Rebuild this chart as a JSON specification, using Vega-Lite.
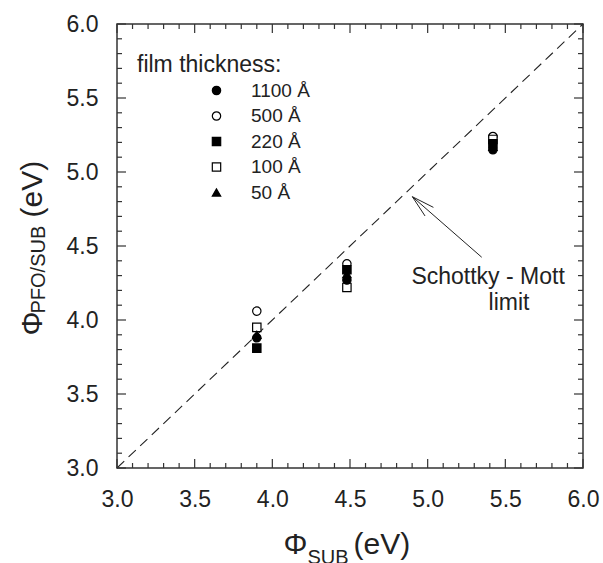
{
  "$schema": "https://vega.github.io/schema/vega-lite/v6.json",
  "width": 466,
  "height": 444,
  "autosize": {"type": "none"},
  "padding": {"left": 117, "top": 24, "right": 20, "bottom": 95},
  "background": "white",
  "config": {
    "font": "Liberation Sans",
    "view": {"stroke": "#333", "strokeWidth": 1.5},
    "axis": {
      "grid": false,
      "domain": false,
      "ticks": false,
      "labelFont": "Liberation Sans",
      "titleFont": "Liberation Sans",
      "labelColor": "#222",
      "titleColor": "#222",
      "titleFontWeight": "normal",
      "labelFlush": false,
      "labelOverlap": false
    }
  },
  "datasets": {
    "diag": [
      {"sub": 3.0, "film": 3.0},
      {"sub": 6.0, "film": 6.0}
    ],
    "films": [
      {"sub": 3.90, "film": 4.06, "thickness": "500 Å"},
      {"sub": 3.90, "film": 3.95, "thickness": "100 Å"},
      {"sub": 3.90, "film": 3.81, "thickness": "220 Å"},
      {"sub": 3.90, "film": 3.88, "thickness": "1100 Å"},
      {"sub": 3.90, "film": 3.90, "thickness": "\u00a050 Å"},
      {"sub": 4.48, "film": 4.38, "thickness": "500 Å"},
      {"sub": 4.48, "film": 4.22, "thickness": "100 Å"},
      {"sub": 4.48, "film": 4.34, "thickness": "220 Å"},
      {"sub": 4.48, "film": 4.27, "thickness": "1100 Å"},
      {"sub": 4.48, "film": 4.31, "thickness": "\u00a050 Å"},
      {"sub": 5.42, "film": 5.24, "thickness": "500 Å"},
      {"sub": 5.42, "film": 5.22, "thickness": "100 Å"},
      {"sub": 5.42, "film": 5.19, "thickness": "220 Å"},
      {"sub": 5.42, "film": 5.15, "thickness": "1100 Å"},
      {"sub": 5.42, "film": 5.17, "thickness": "\u00a050 Å"}
    ],
    "arrow": [
      {"sub": 5.348, "film": 4.424, "sub2": 4.9015, "film2": 4.833},
      {"sub": 5.037, "film": 4.761, "sub2": 4.9015, "film2": 4.833},
      {"sub": 4.983, "film": 4.703, "sub2": 4.9015, "film2": 4.833}
    ],
    "notes": [
      {"sub": 5.389, "film": 4.243, "note": "Schottky - Mott"},
      {"sub": 5.524, "film": 4.068, "note": "limit"}
    ],
    "major": [
      {"at": 3.0}, {"at": 3.5}, {"at": 4.0}, {"at": 4.5}, {"at": 5.0}, {"at": 5.5}, {"at": 6.0}
    ],
    "minor": [
      {"at": 3.1}, {"at": 3.2}, {"at": 3.3}, {"at": 3.4},
      {"at": 3.6}, {"at": 3.7}, {"at": 3.8}, {"at": 3.9},
      {"at": 4.1}, {"at": 4.2}, {"at": 4.3}, {"at": 4.4},
      {"at": 4.6}, {"at": 4.7}, {"at": 4.8}, {"at": 4.9},
      {"at": 5.1}, {"at": 5.2}, {"at": 5.3}, {"at": 5.4},
      {"at": 5.6}, {"at": 5.7}, {"at": 5.8}, {"at": 5.9}
    ]
  },
  "layer": [
    {
      "data": {"name": "diag"},
      "mark": {"type": "line", "color": "#222", "strokeWidth": 1.1, "strokeDash": [10, 6]},
      "encoding": {
        "x": {
          "field": "sub", "type": "quantitative",
          "scale": {"domain": [3, 6], "nice": false, "zero": false},
          "axis": {
            "orient": "bottom",
            "values": [3.0, 3.5, 4.0, 4.5, 5.0, 5.5, 6.0],
            "format": ".1f",
            "labelFontSize": 23,
            "labelPadding": 20,
            "title": "Φ",
            "titleFontSize": 30,
            "titleAlign": "left",
            "titleBaseline": "alphabetic",
            "titleX": 166,
            "titleY": 85
          }
        },
        "y": {
          "field": "film", "type": "quantitative",
          "scale": {"domain": [3, 6], "nice": false, "zero": false},
          "axis": {
            "orient": "left",
            "values": [3.0, 3.5, 4.0, 4.5, 5.0, 5.5, 6.0],
            "format": ".1f",
            "labelFontSize": 23,
            "labelPadding": 19,
            "title": "Φ",
            "titleFontSize": 30,
            "titleAngle": 270,
            "titleAlign": "left",
            "titleBaseline": "alphabetic",
            "titleX": -76,
            "titleY": 311
          }
        }
      }
    },
    {
      "data": {"name": "films"},
      "mark": {"type": "point", "filled": true, "size": 70, "strokeWidth": 1.2, "opacity": 1},
      "encoding": {
        "x": {
          "field": "sub", "type": "quantitative",
          "scale": {"domain": [3, 6], "nice": false, "zero": false},
          "axis": {
            "orient": "bottom", "labels": false,
            "title": "SUB", "titleFontSize": 20, "titleAlign": "left", "titleBaseline": "alphabetic",
            "titleX": 190, "titleY": 95
          }
        },
        "y": {
          "field": "film", "type": "quantitative",
          "scale": {"domain": [3, 6], "nice": false, "zero": false},
          "axis": {
            "orient": "left", "labels": false,
            "title": "PFO/SUB", "titleFontSize": 20, "titleAngle": 270, "titleAlign": "left", "titleBaseline": "alphabetic",
            "titleX": -73, "titleY": 289
          }
        },
        "shape": {
          "field": "thickness", "type": "nominal",
          "scale": {"domain": ["1100 Å", "500 Å", "220 Å", "100 Å", "\u00a050 Å"], "range": ["circle", "circle", "square", "square", "triangle-up"]},
          "legend": {
            "orient": "none", "legendX": 20, "legendY": 30, "padding": 0,
            "title": "film thickness:", "titleFontSize": 23, "titleFontWeight": "normal", "titleColor": "#222", "titlePadding": 4,
            "labelFontSize": 19, "labelColor": "#222", "labelOffset": 25,
            "symbolOffset": 70, "symbolSize": 70, "symbolStrokeWidth": 1.2, "symbolOpacity": 1,
            "rowPadding": 5.5
          }
        },
        "fill": {
          "field": "thickness", "type": "nominal",
          "scale": {"domain": ["1100 Å", "500 Å", "220 Å", "100 Å", "\u00a050 Å"], "range": ["black", "white", "black", "white", "black"]},
          "legend": {
            "orient": "none", "legendX": 20, "legendY": 30, "padding": 0,
            "title": "film thickness:", "titleFontSize": 23, "titleFontWeight": "normal", "titleColor": "#222", "titlePadding": 4,
            "labelFontSize": 19, "labelColor": "#222", "labelOffset": 25,
            "symbolOffset": 70, "symbolSize": 70, "symbolStrokeWidth": 1.2, "symbolOpacity": 1,
            "rowPadding": 5.5
          }
        },
        "stroke": {
          "field": "thickness", "type": "nominal",
          "scale": {"domain": ["1100 Å", "500 Å", "220 Å", "100 Å", "\u00a050 Å"], "range": ["black", "black", "black", "black", "black"]},
          "legend": {
            "orient": "none", "legendX": 20, "legendY": 30, "padding": 0,
            "title": "film thickness:", "titleFontSize": 23, "titleFontWeight": "normal", "titleColor": "#222", "titlePadding": 4,
            "labelFontSize": 19, "labelColor": "#222", "labelOffset": 25,
            "symbolOffset": 70, "symbolSize": 70, "symbolStrokeWidth": 1.2, "symbolOpacity": 1,
            "rowPadding": 5.5
          }
        }
      }
    },
    {
      "data": {"name": "arrow"},
      "mark": {"type": "rule", "color": "#222", "strokeWidth": 1},
      "encoding": {
        "x": {
          "field": "sub", "type": "quantitative",
          "scale": {"domain": [3, 6], "nice": false, "zero": false},
          "axis": {
            "orient": "bottom", "labels": false,
            "title": "(eV)", "titleFontSize": 30, "titleAlign": "left", "titleBaseline": "alphabetic",
            "titleX": 236, "titleY": 85
          }
        },
        "y": {
          "field": "film", "type": "quantitative",
          "scale": {"domain": [3, 6], "nice": false, "zero": false},
          "axis": {
            "orient": "left", "labels": false,
            "title": "(eV)", "titleFontSize": 30, "titleAngle": 270, "titleAlign": "left", "titleBaseline": "alphabetic",
            "titleX": -76, "titleY": 193
          }
        },
        "x2": {"field": "sub2"},
        "y2": {"field": "film2"}
      }
    },
    {
      "data": {"name": "notes"},
      "mark": {"type": "text", "fontSize": 23, "color": "#222", "align": "center", "baseline": "alphabetic"},
      "encoding": {
        "x": {"field": "sub", "type": "quantitative", "scale": {"domain": [3, 6], "nice": false, "zero": false}, "axis": null},
        "y": {"field": "film", "type": "quantitative", "scale": {"domain": [3, 6], "nice": false, "zero": false}, "axis": null},
        "text": {"field": "note", "type": "nominal"}
      }
    },
    {
      "data": {"name": "major"},
      "mark": {"type": "point", "shape": "M0,0L0,-1", "filled": false, "size": 324, "stroke": "#333", "strokeWidth": 1.2, "opacity": 1},
      "encoding": {
        "x": {"field": "at", "type": "quantitative", "scale": {"domain": [3, 6], "nice": false, "zero": false}, "axis": null},
        "y": {"datum": 3, "type": "quantitative", "scale": {"domain": [3, 6], "nice": false, "zero": false}, "axis": null}
      }
    },
    {
      "data": {"name": "minor"},
      "mark": {"type": "point", "shape": "M0,0L0,-1", "filled": false, "size": 100, "stroke": "#333", "strokeWidth": 1.2, "opacity": 1},
      "encoding": {
        "x": {"field": "at", "type": "quantitative", "scale": {"domain": [3, 6], "nice": false, "zero": false}, "axis": null},
        "y": {"datum": 3, "type": "quantitative", "scale": {"domain": [3, 6], "nice": false, "zero": false}, "axis": null}
      }
    },
    {
      "data": {"name": "major"},
      "mark": {"type": "point", "shape": "M0,0L0,1", "filled": false, "size": 324, "stroke": "#333", "strokeWidth": 1.2, "opacity": 1},
      "encoding": {
        "x": {"field": "at", "type": "quantitative", "scale": {"domain": [3, 6], "nice": false, "zero": false}, "axis": null},
        "y": {"datum": 6, "type": "quantitative", "scale": {"domain": [3, 6], "nice": false, "zero": false}, "axis": null}
      }
    },
    {
      "data": {"name": "minor"},
      "mark": {"type": "point", "shape": "M0,0L0,1", "filled": false, "size": 100, "stroke": "#333", "strokeWidth": 1.2, "opacity": 1},
      "encoding": {
        "x": {"field": "at", "type": "quantitative", "scale": {"domain": [3, 6], "nice": false, "zero": false}, "axis": null},
        "y": {"datum": 6, "type": "quantitative", "scale": {"domain": [3, 6], "nice": false, "zero": false}, "axis": null}
      }
    },
    {
      "data": {"name": "major"},
      "mark": {"type": "point", "shape": "M0,0L1,0", "filled": false, "size": 324, "stroke": "#333", "strokeWidth": 1.2, "opacity": 1},
      "encoding": {
        "y": {"field": "at", "type": "quantitative", "scale": {"domain": [3, 6], "nice": false, "zero": false}, "axis": null},
        "x": {"datum": 3, "type": "quantitative", "scale": {"domain": [3, 6], "nice": false, "zero": false}, "axis": null}
      }
    },
    {
      "data": {"name": "minor"},
      "mark": {"type": "point", "shape": "M0,0L1,0", "filled": false, "size": 100, "stroke": "#333", "strokeWidth": 1.2, "opacity": 1},
      "encoding": {
        "y": {"field": "at", "type": "quantitative", "scale": {"domain": [3, 6], "nice": false, "zero": false}, "axis": null},
        "x": {"datum": 3, "type": "quantitative", "scale": {"domain": [3, 6], "nice": false, "zero": false}, "axis": null}
      }
    },
    {
      "data": {"name": "major"},
      "mark": {"type": "point", "shape": "M0,0L-1,0", "filled": false, "size": 324, "stroke": "#333", "strokeWidth": 1.2, "opacity": 1},
      "encoding": {
        "y": {"field": "at", "type": "quantitative", "scale": {"domain": [3, 6], "nice": false, "zero": false}, "axis": null},
        "x": {"datum": 6, "type": "quantitative", "scale": {"domain": [3, 6], "nice": false, "zero": false}, "axis": null}
      }
    },
    {
      "data": {"name": "minor"},
      "mark": {"type": "point", "shape": "M0,0L-1,0", "filled": false, "size": 100, "stroke": "#333", "strokeWidth": 1.2, "opacity": 1},
      "encoding": {
        "y": {"field": "at", "type": "quantitative", "scale": {"domain": [3, 6], "nice": false, "zero": false}, "axis": null},
        "x": {"datum": 6, "type": "quantitative", "scale": {"domain": [3, 6], "nice": false, "zero": false}, "axis": null}
      }
    }
  ],
  "resolve": {"axis": {"x": "independent", "y": "independent"}}
}
